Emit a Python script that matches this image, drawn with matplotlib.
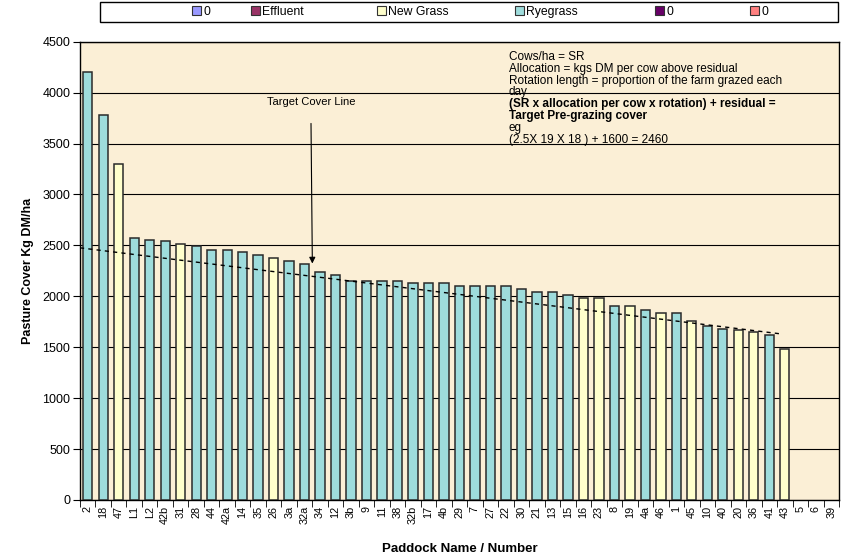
import matplotlib
matplotlib.use("Agg")
import matplotlib.pyplot as plt
from matplotlib.patches import Patch, Rectangle
import numpy as np

plt.rcParams['font.family'] = ['Liberation Sans', 'DejaVu Sans']

# paddocks in order of cover, with pasture type (R = Ryegrass, N = New Grass)
paddocks = ["2", "18", "47", "L1", "L2", "42b", "31", "28", "44", "42a", "14", "35",
            "26", "3a", "32a", "34", "12", "3b", "9", "11", "38", "32b", "17", "4b",
            "29", "7", "27", "22", "30", "21", "13", "15", "16", "23", "8", "19",
            "4a", "46", "1", "45", "10", "40", "20", "36", "41", "43", "5", "6", "39"]
cover = [4200, 3780, 3300, 2570, 2555, 2545, 2515, 2490, 2458, 2458, 2431, 2405,
         2375, 2349, 2320, 2238, 2210, 2152, 2152, 2152, 2152, 2127, 2127, 2127,
         2098, 2098, 2098, 2098, 2068, 2040, 2040, 2012, 1982, 1982, 1900, 1900,
         1870, 1841, 1841, 1759, 1705, 1676, 1670, 1650, 1617, 1481, 0, 0, 0]
ptype = ["R", "R", "N", "R", "R", "R", "N", "R", "R", "R", "R", "R",
         "N", "R", "R", "R", "R", "R", "R", "R", "R", "R", "R", "R",
         "R", "R", "R", "R", "R", "R", "R", "R", "N", "N", "R", "N",
         "R", "N", "R", "N", "R", "R", "N", "N", "R", "N", "", "", ""]

legend_labels = ["0", "Effluent", "New Grass", "Ryegrass", "0", "0"]
legend_colors = ["#9999FF", "#993366", "#FFFFCC", "#9EDCDC", "#660066", "#FF8080"]

# target cover line (start / end of the dashed line)
target_x = [-0.5, 44.8]
target_y = [2476, 1630]

colour = {"R": "#9EDCDC", "N": "#FFFFCC", "": "none"}

fig = plt.figure(figsize=(8.43, 5.58), dpi=100)
ax = fig.add_axes([80/843, 1-500/558, 759/843, 458.3/558])
ax.set_facecolor("#FBEFD6")

x = np.arange(len(paddocks))
ax.bar(x, cover, width=0.6, color=[colour[t] for t in ptype],
       edgecolor=["#2a2a2a" if t else "none" for t in ptype],
       linewidth=1.1, zorder=3)
ax.plot(target_x, target_y, color="black", linestyle=(0, (3, 3)), linewidth=1.0, zorder=4)

ax.set_xlim(-0.5, len(paddocks) - 0.5)
ax.set_ylim(0, 4500)
ax.set_yticks(np.arange(0, 4501, 500))
ax.yaxis.grid(True, color="black", linewidth=0.8, zorder=1)
ax.set_axisbelow(True)

ax.set_xticks(x)
ax.set_xticklabels(paddocks, rotation=90, fontsize=7.8)
ax.tick_params(axis="x", length=0, pad=4)
ax.set_xticks(np.arange(-0.5, len(paddocks)), minor=True)
ax.tick_params(axis="x", which="minor", length=5, direction="out")
ax.tick_params(axis="y", labelsize=9, length=5, direction="out", pad=2)

for s in ax.spines.values():
    s.set_color("black")
    s.set_linewidth(1.0)

ax.set_xlabel("Paddock Name / Number", fontsize=9.5, fontweight="bold", labelpad=14)
ax.set_ylabel("Pasture Cover Kg DM/ha", fontsize=9, fontweight="bold", labelpad=6)

# arrow annotation
ax.annotate("Target Cover Line", xy=(14.5, 2322), xytext=(14.4, 3910),
            ha="center", va="center", fontsize=8,
            arrowprops=dict(arrowstyle="-|>", color="black", lw=0.8,
                            shrinkA=10, shrinkB=0, mutation_scale=9))

# note text
notes = [("Cows/ha = SR", "normal"),
         ("Allocation = kgs DM per cow above residual", "normal"),
         ("Rotation length = proportion of the farm grazed each", "normal"),
         ("day", "normal"),
         ("(SR x allocation per cow x rotation) + residual =", "bold"),
         ("Target Pre-grazing cover", "bold"),
         ("eg", "normal"),
         ("(2.5X 19 X 18 ) + 1600 = 2460", "normal")]
for i, (line, w) in enumerate(notes):
    ypix = 57 + i * 11.8
    ax.text((509 - 80) / 759, (500 - ypix) / 458.3, line, transform=ax.transAxes,
            ha="left", va="center", fontsize=8.5, fontweight=w, zorder=5)

# legend: one entry at each Excel legend slot, inside a single frame
legend_xpix = [195, 254, 380, 518, 658, 753]
for lbl, c, xp in zip(legend_labels, legend_colors, legend_xpix):
    fig.legend([Patch(facecolor=c, edgecolor="#333333", linewidth=0.8)], [lbl],
               loc="center left", bbox_to_anchor=(xp/843 - 0.004, 1-12/558),
               fontsize=8.8, frameon=False, handlelength=0.75, handleheight=0.75,
               handletextpad=0.2, borderpad=0, borderaxespad=0)
fig.add_artist(Rectangle((100/843, 1-22/558), 738/843, 20/558, transform=fig.transFigure,
                         facecolor="none", edgecolor="black", linewidth=1.0))

fig.savefig("out.png", dpi=100)
